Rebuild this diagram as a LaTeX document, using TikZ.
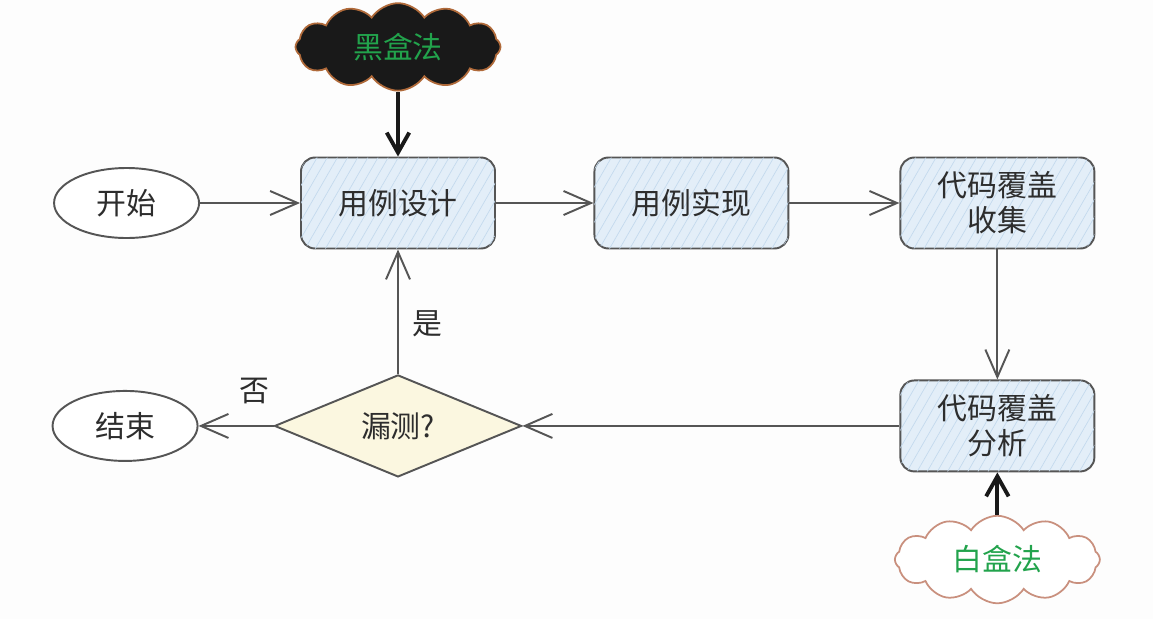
\documentclass[tikz,border=0pt]{standalone}
\usepackage{fontspec}
\setmainfont{Noto Sans CJK SC}
\usepackage{tikz}
\usetikzlibrary{positioning, shapes.geometric, shapes.symbols, arrows.meta, patterns.meta}
\definecolor{azulclaro}{RGB}{227, 238, 248}
\definecolor{azulrayado}{RGB}{196, 218, 238}
\definecolor{amarilloclaro}{RGB}{251, 247, 224}
\definecolor{bordegris}{RGB}{85, 85, 85}
\definecolor{textogris}{RGB}{45, 45, 45}
\definecolor{verdetexto}{RGB}{34, 163, 76}
\definecolor{bordenaranja}{RGB}{176, 106, 58}
\definecolor{borderosa}{RGB}{201, 144, 126}
\definecolor{fondo}{RGB}{253, 253, 253}

\begin{document}
\begin{tikzpicture}[
		font=\fontsize{17}{20}\selectfont,
		text=textogris,
		caja/.style = {
			rectangle,
			rounded corners=8pt,
			draw=bordegris,
			line width=1.1pt,
			fill=azulclaro,
			postaction={pattern={Lines[angle=60, distance=5pt, line width=0.4pt]}, pattern color=azulrayado},
			minimum width=3.88cm,                   % Anchura fija
			minimum height=1.82cm,                  % Altura fija
			align=center
		},
		ovalo/.style = {
			ellipse,
			draw=bordegris,
			line width=1.1pt,
			fill=white,
			minimum width=2.9cm,
			minimum height=1.4cm
		},
		rombo/.style = {
			diamond,
			draw=bordegris,
			line width=1.1pt,
			fill=amarilloclaro,
			minimum width=4.94cm,
			minimum height=2.04cm,
			inner sep=0pt
		},
		nube/.style = {
			cloud,
			cloud puffs=12,
			cloud puff arc=115,
			aspect=2.4,
			minimum width=4.1cm,
			minimum height=1.75cm,
			line width=1pt,
			text=verdetexto
		},
		flecha/.style = {
			draw=bordegris,
			line width=1.1pt,
			-{Straight Barb[length=5.5mm, width=4.8mm, line width=1.1pt]}
		},
		gruesa/.style = {
			draw=black!90,
			line width=2.2pt,
			-{Straight Barb[length=4mm, width=4.5mm, line width=2.2pt]}
		}
		]
		
		% Fondo y margenes
		\fill[fondo] (0,0) rectangle (23.06,-12.38);
		\useasboundingbox (0,0) rectangle (23.06,-12.38);
		
		% Fila superior
		\node[caja] (diseno) at (7.96,-4.06) {用例设计};
		\node[caja, right=1.95cm of diseno] (implementacion) {用例实现};
		\node[caja, right=2.2cm of implementacion] (recoleccion) {代码覆盖\\收集};
		
		% Inicio
		\node[ovalo, left=2cm of diseno] (inicio) {开始};
		
		% Fila inferior
		\node[caja, below=2.6cm of recoleccion] (analisis) {代码覆盖\\分析};
		\node[rombo] (omision) at (diseno |- analisis) {漏测?};
		\node[ovalo, left=1.5cm of omision] (fin) {结束};
		
		% Nubes
		\node[nube, fill=black!90, draw=bordenaranja, above=1.3cm of diseno] (cajanegra) {黑盒法};
		\node[nube, fill=white, draw=borderosa, below=0.85cm of analisis] (cajablanca) {白盒法};
		
		% Conexiones
		\draw[flecha] (inicio) -- (diseno);
		\draw[flecha] (diseno) -- (implementacion);
		\draw[flecha] (implementacion) -- (recoleccion);
		\draw[flecha] (recoleccion) -- (analisis);
		\draw[flecha] (analisis) -- (omision);
		\draw[flecha] (omision) -- node[above=0.3cm, pos=0.25] {否} (fin);
		\draw[flecha] (omision) -- node[right=0.15cm, pos=0.4] {是} (diseno);
		\draw[gruesa] (cajanegra) -- (diseno);
		\draw[gruesa] (cajablanca) -- (analisis);
		
	\end{tikzpicture}
\end{document}
